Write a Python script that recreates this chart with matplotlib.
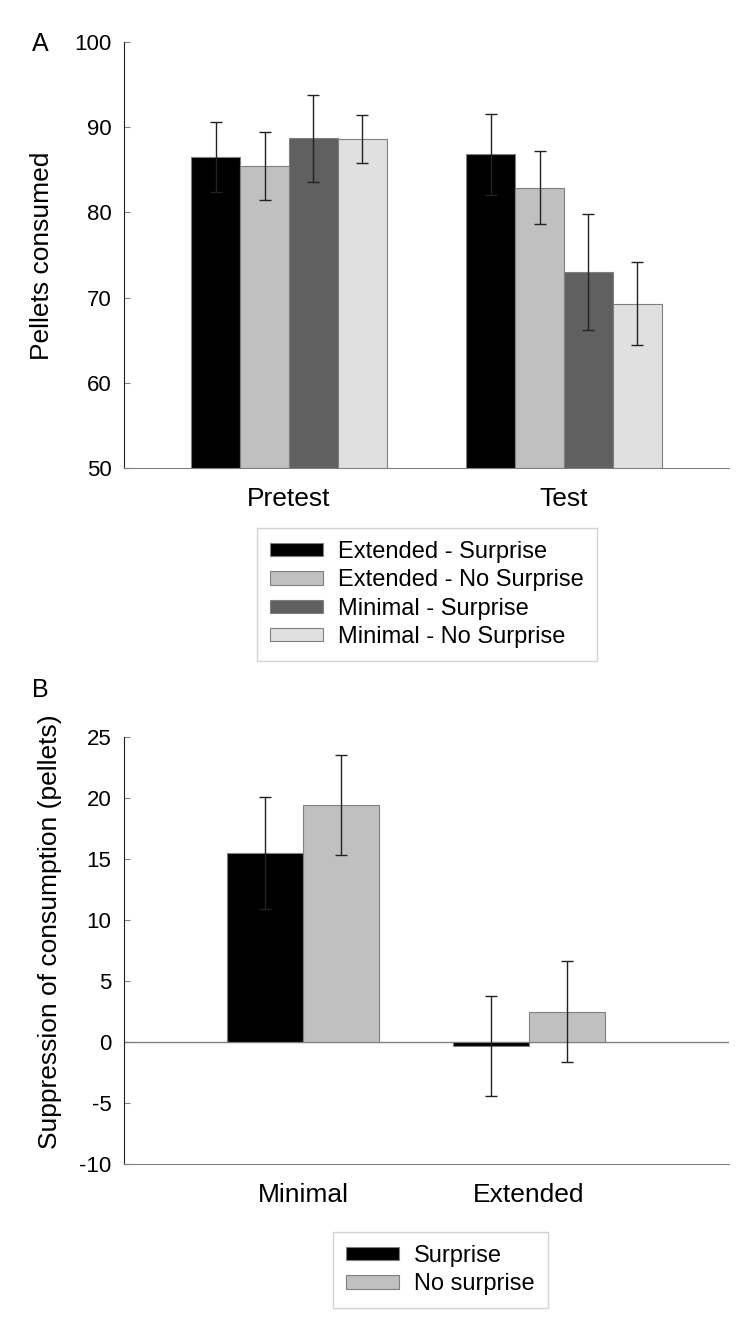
import matplotlib
matplotlib.use("Agg")
import matplotlib.pyplot as plt
import numpy as np

plt.rcParams['font.family'] = ['Liberation Sans', 'DejaVu Sans']
plt.rcParams['axes.unicode_minus'] = False

# Panel A data
phases = ['Pretest', 'Test']
groups_a = ['Extended - Surprise', 'Extended - No Surprise', 'Minimal - Surprise', 'Minimal - No Surprise']
means_a = [[86.5, 86.8], [85.4, 82.9], [88.7, 73.0], [88.6, 69.3]]
errs_a = [[4.1, 4.8], [4.0, 4.3], [5.1, 6.8], [2.8, 4.85]]
colors_a = ['#000000', '#c0c0c0', '#606060', '#e0e0e0']

# Panel B data
training = ['Minimal', 'Extended']
groups_b = ['Surprise', 'No surprise']
means_b = [[15.5, -0.35], [19.45, 2.5]]
errs_b = [[4.6, 4.1], [4.1, 4.15]]
colors_b = ['#000000', '#c0c0c0']

W, H = 755, 1335
fig = plt.figure(figsize=(W / 100, H / 100), dpi=100)

edge = '#808080'
errc = '#222222'


def style_axes(ax):
    for s in ['top', 'right']:
        ax.spines[s].set_visible(False)
    ax.spines['left'].set_color('#202020')
    ax.spines['bottom'].set_color('#808080')
    ax.tick_params(axis='y', direction='in', length=4, color='#808080', labelsize=16, pad=9)
    ax.tick_params(axis='x', length=0, labelsize=19, pad=14)


def add_legend(ax, top_left):
    leg = fig.legend(*ax.get_legend_handles_labels(), loc='upper left',
                     bbox_to_anchor=(top_left[0] / W, 1 - top_left[1] / H), fontsize=17,
                     handlelength=2.25, handleheight=0.5, labelspacing=0.27,
                     handletextpad=0.64, borderpad=0.55, borderaxespad=0,
                     fancybox=False, frameon=True)
    leg.get_frame().set_edgecolor('#c8c8c8')
    leg.get_frame().set_linewidth(1)
    return leg


# --- Panel A ---
ax1 = fig.add_axes([124 / W, 1 - 468 / H, 605 / W, 426 / H])
x = np.arange(len(phases))
w = 0.178
for i, g in enumerate(groups_a):
    ax1.bar(x + (i - 1.5) * w, means_a[i], w, color=colors_a[i], edgecolor=edge,
            linewidth=0.8, label=g, zorder=2)
    ax1.errorbar(x + (i - 1.5) * w, means_a[i], yerr=errs_a[i], fmt='none',
                 ecolor=errc, elinewidth=1, capsize=4.3, capthick=1, zorder=3)
ax1.set_ylim(50, 100)
ax1.set_xlim(-0.6, 1.6)
ax1.set_yticks(range(50, 101, 10))
ax1.set_xticks(x)
ax1.set_xticklabels(phases)
style_axes(ax1)
fig.text(42.5 / W, 1 - 256 / H, 'Pellets consumed', fontsize=19, rotation=90,
         ha='center', va='center')
fig.text(40 / W, 1 - 44 / H, 'A', fontsize=18, ha='center', va='center')
add_legend(ax1, (257, 528))

# --- Panel B ---
ax2 = fig.add_axes([124 / W, 1 - 1164 / H, 605 / W, 427 / H])
xb = np.arange(len(training))
wb = 0.336
for i, g in enumerate(groups_b):
    ax2.bar(xb + (i - 0.5) * wb, means_b[i], wb, color=colors_b[i], edgecolor=edge,
            linewidth=0.8, label=g, zorder=2)
    ax2.errorbar(xb + (i - 0.5) * wb, means_b[i], yerr=errs_b[i], fmt='none',
                 ecolor=errc, elinewidth=1, capsize=4.3, capthick=1, zorder=3)
ax2.axhline(0, color='#808080', linewidth=1, zorder=1)
ax2.set_ylim(-10, 25)
ax2.set_xlim(-0.792, 1.885)
ax2.set_yticks(range(-10, 26, 5))
ax2.set_xticks(xb)
ax2.set_xticklabels(training)
style_axes(ax2)
fig.text(50 / W, 1 - 932 / H, 'Suppression of consumption (pellets)', fontsize=19,
         rotation=90, ha='center', va='center')
fig.text(40 / W, 1 - 690 / H, 'B', fontsize=18, ha='center', va='center')
add_legend(ax2, (333, 1232))

fig.savefig('out.png', dpi=100)
